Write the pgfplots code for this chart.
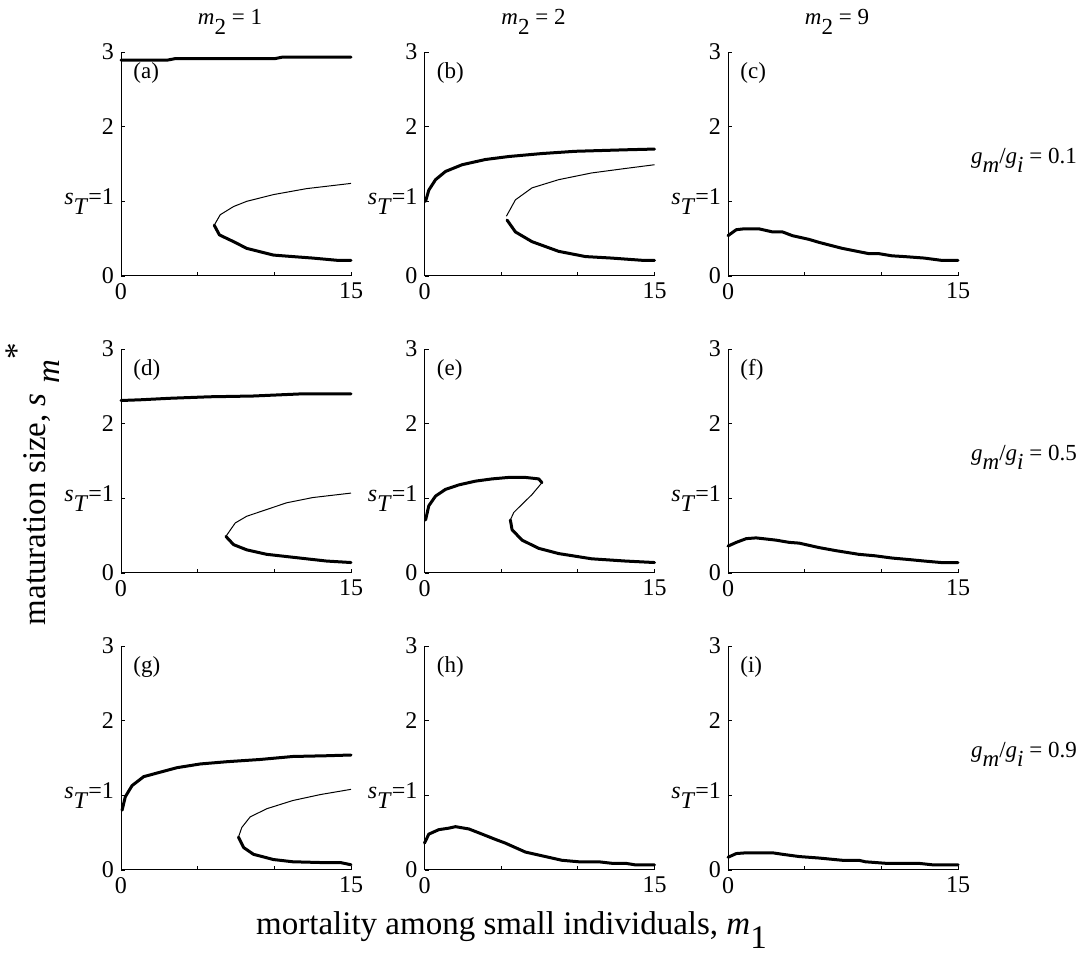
\documentclass[border=0pt]{standalone}
\usepackage{fontspec}
\setmainfont{Liberation Serif}
\usepackage{pgfplots}
\pgfplotsset{compat=1.18}
\usepgfplotslibrary{groupplots}

% MATLAB-style subscripts: full size, lowered
\newcommand{\lo}[1]{\raisebox{-0.42em}{#1}}
\newcommand{\sT}{\textit{s}\lo{\textit{T}}=1}
\newcommand{\ratio}[1]{\textit{g}\lo{\textit{m}}/\textit{g}\lo{\textit{i}} = #1}
\newcommand{\mtwo}[1]{\textit{m}\lo{2} = #1}

\pgfplotsset{
  panel/.style={
    scale only axis, width=115pt, height=112pt,
    xmin=0, xmax=15, ymin=0, ymax=3,
    axis lines*=left, axis line style={-, line width=0.5pt},
    tick align=inside, major tick length=2pt,
    tick style={black, line width=0.4pt},
    xtick={0,5,10,15}, xticklabels={0,,,15},
    ytick={0,1,2,3}, yticklabels={0,\sT,2,3},
    tick label style={font=\fontsize{12}{13}\selectfont},
    clip=false},
  stab/.style={black, line width=1.5pt, line join=round, line cap=round},
  unst/.style={black, line width=0.5pt, line join=round},
}
\newcommand{\plab}[1]{\node[anchor=west, font=\fontsize{11.5}{12}\selectfont] at (axis cs:0.35,2.72) {#1};}
\newcommand{\rlab}[1]{\node[anchor=west, font=\fontsize{11.5}{12}\selectfont] at (axis cs:15.4,1.55) {\ratio{#1}};}
\newcommand{\clab}[1]{\node[font=\fontsize{11.5}{12}\selectfont] at (rel axis cs:0.5,1) [yshift=15pt,xshift=-3pt] {\mtwo{#1}};}

\begin{document}
\begin{tikzpicture}
\begin{groupplot}[
  group style={group size=3 by 3, horizontal sep=36.75pt, vertical sep=36.5pt},
  panel]

% (a)
\nextgroupplot
\clab{1}
\addplot[stab] coordinates {(0,2.89)(3.0,2.89)(3.5,2.91)(6,2.91)(10,2.91)(10.5,2.93)(15,2.93)};
\addplot[unst] coordinates {(6.08,0.68)(6.47,0.82)(7.34,0.93)(8.2,1.0)(9.94,1.09)(12.1,1.17)(15,1.24)};
\addplot[stab] coordinates {(6.08,0.68)(6.42,0.55)(7.34,0.46)(8.2,0.37)(9.94,0.28)(11.2,0.26)(12.5,0.24)(14.1,0.21)(15,0.21)};
\plab{(a)}

% (b)
\nextgroupplot
\clab{2}
\addplot[stab] coordinates {(0.07,1.0)(0.28,1.15)(0.72,1.29)(1.37,1.40)(2.45,1.49)(3.97,1.56)(5.49,1.60)(7.66,1.64)(9.83,1.67)(13.1,1.69)(15,1.70)};
\addplot[unst] coordinates {(5.34,0.80)(5.93,1.02)(7.01,1.18)(8.75,1.29)(10.9,1.38)(13.1,1.44)(15,1.49)};
\addplot[stab] coordinates {(5.38,0.75)(5.93,0.59)(7.01,0.46)(8.75,0.33)(10.5,0.26)(12.2,0.24)(14.2,0.21)(15,0.21)};
\plab{(b)}

% (c)
\nextgroupplot
\clab{9}
\addplot[stab] coordinates {(0,0.54)(0.54,0.62)(0.97,0.63)(2.05,0.63)(2.91,0.59)(3.56,0.59)(4.2,0.54)(5.29,0.49)(5.94,0.45)(7.45,0.37)(9.17,0.30)(9.82,0.30)(10.7,0.27)(11.5,0.26)(12.8,0.24)(13.9,0.21)(15,0.21)};
\plab{(c)}
\rlab{0.1}

% (d)
\nextgroupplot
\addplot[stab] coordinates {(0,2.31)(1.3,2.32)(3.2,2.34)(5.8,2.36)(8.6,2.37)(11.9,2.40)(15,2.40)};
\addplot[unst] coordinates {(6.84,0.49)(7.45,0.67)(8.2,0.76)(9.5,0.85)(10.8,0.94)(12.5,1.01)(15,1.07)};
\addplot[stab] coordinates {(6.84,0.49)(7.34,0.38)(8.2,0.31)(9.5,0.25)(10.8,0.22)(12.1,0.19)(13.4,0.16)(15,0.14)};
\plab{(d)}

% (e)
\nextgroupplot
\addplot[stab] coordinates {(0.07,0.71)(0.28,0.90)(0.72,1.03)(1.37,1.12)(2.24,1.18)(3.32,1.23)(4.4,1.26)(5.49,1.28)(6.58,1.28)(7.45,1.26)(7.66,1.21)};
\addplot[unst] coordinates {(7.66,1.21)(7.01,1.05)(6.36,0.92)(5.82,0.81)(5.6,0.71)};
\addplot[stab] coordinates {(5.6,0.71)(5.71,0.58)(6.36,0.44)(7.45,0.33)(8.75,0.26)(10.9,0.19)(13.1,0.16)(15,0.14)};
\plab{(e)}

% (f)
\nextgroupplot
\addplot[stab] coordinates {(0,0.36)(0.54,0.41)(1.19,0.46)(1.83,0.47)(2.27,0.46)(3.13,0.44)(3.99,0.41)(4.64,0.40)(5.94,0.34)(7.01,0.30)(8.53,0.25)(9.6,0.23)(10.7,0.20)(11.8,0.18)(12.8,0.16)(13.9,0.14)(15,0.14)};
\plab{(f)}
\rlab{0.5}

% (g)
\nextgroupplot
\addplot[stab] coordinates {(0.07,0.80)(0.28,0.98)(0.72,1.13)(1.48,1.25)(2.56,1.31)(3.65,1.37)(5.17,1.42)(6.9,1.45)(9.07,1.48)(11.2,1.52)(13.4,1.53)(15,1.54)};
\addplot[unst] coordinates {(7.66,0.44)(7.88,0.57)(8.42,0.71)(9.5,0.82)(11.2,0.93)(13.0,1.01)(15,1.08)};
\addplot[stab] coordinates {(7.66,0.44)(8.0,0.30)(8.64,0.21)(9.94,0.14)(11.2,0.11)(13.0,0.10)(14.3,0.10)(15,0.07)};
\plab{(g)}

% (h)
\nextgroupplot
\addplot[stab] coordinates {(0,0.36)(0.28,0.48)(0.93,0.54)(1.58,0.56)(2.02,0.58)(2.89,0.55)(3.76,0.48)(4.62,0.41)(5.27,0.36)(6.58,0.24)(7.88,0.18)(8.96,0.13)(10.05,0.11)(11.35,0.11)(12.2,0.09)(13.1,0.09)(13.7,0.07)(15,0.07)};
\plab{(h)}

% (i)
\nextgroupplot
\addplot[stab] coordinates {(0,0.17)(0.54,0.22)(1.19,0.23)(2.91,0.23)(3.56,0.21)(4.64,0.18)(5.94,0.16)(7.45,0.13)(8.53,0.13)(8.96,0.11)(10.25,0.09)(12.4,0.09)(13.3,0.07)(15,0.07)};
\plab{(i)}
\rlab{0.9}
\end{groupplot}

\node[rotate=90, font=\fontsize{16.5}{18}\selectfont] at ([xshift=-44pt,yshift=-11.5pt]group c1r2.west)
  {maturation size, \textit{s}\hspace{0.3em}\lo{\textit{m}}\raisebox{0.55em}{*}};
\node[anchor=base, font=\fontsize{16.5}{18}\selectfont] at ([xshift=-14pt,yshift=-32.5pt]group c2r3.south)
  {mortality among small individuals, \textit{m}\lo{1}};

\pgfresetboundingbox
\path ([xshift=-60.5pt,yshift=26pt]group c1r1.north west) rectangle ++(543pt,-484pt);
\end{tikzpicture}
\end{document}
